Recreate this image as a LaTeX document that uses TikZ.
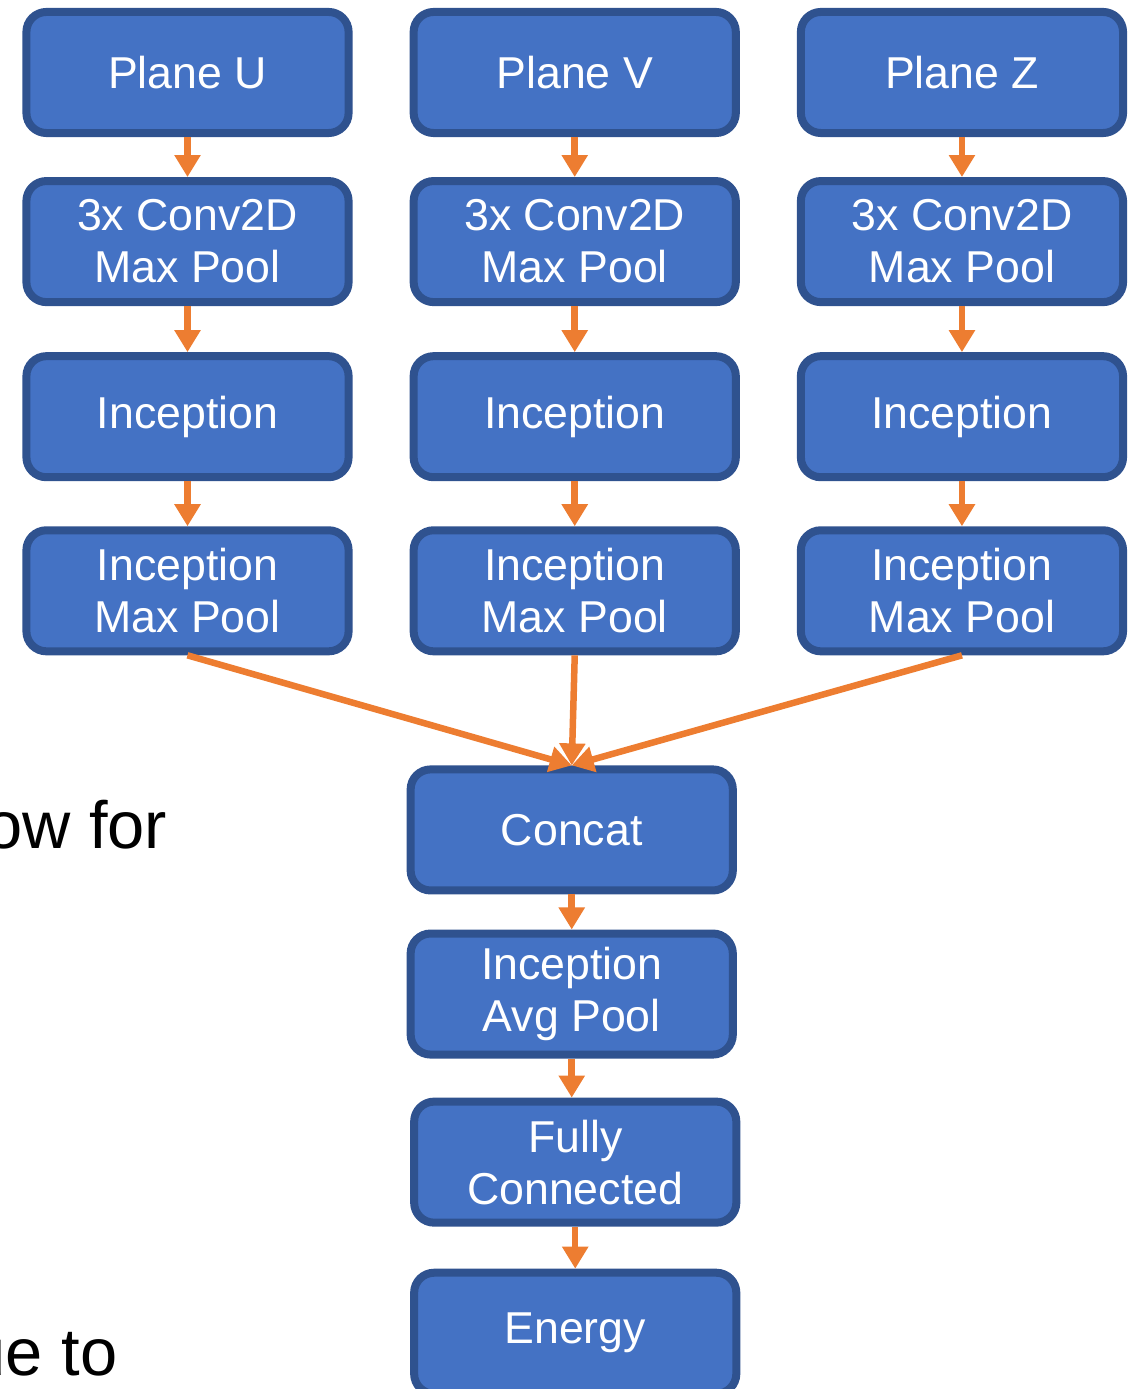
\documentclass[tikz,border=0pt]{standalone}
\usepackage{fontspec}
\setmainfont{Liberation Sans}
\usetikzlibrary{arrows.meta,positioning}
\definecolor{boxblue}{HTML}{4472C4}
\definecolor{boxedge}{HTML}{2F528F}
\definecolor{flow}{HTML}{ED7D31}

\begin{document}
\begin{tikzpicture}[
  x=0.01cm, y=-0.01cm,
  layer/.style={draw=boxedge, line width=0.08cm, fill=boxblue,
                rounded corners=0.2cm, minimum width=3.22cm,
                minimum height=1.21cm, align=center, inner sep=0pt,
                text=white, font=\fontsize{12.7}{14.8}\selectfont},
  slide/.style={font=\fontsize{19}{23}\selectfont, inner sep=0pt},
  arrow/.style={-{Triangle[width=0.25cm, length=0.22cm]}, draw=flow,
                fill=flow, line width=0.065cm},
  node distance=0.45cm
]
  \useasboundingbox (0,0) rectangle (1138,1389);

  % three planes
  \node[layer] (planeU) at (187.5,72.5) {Plane U};
  \node[layer, right=0.57cm of planeU] (planeV) {Plane V};
  \node[layer, right=0.57cm of planeV] (planeZ) {Plane Z};

  \node[layer, below=0.40cm of planeU] (convU) {3x Conv2D\\Max Pool};
  \node[layer, below=0.40cm of planeV] (convV) {3x Conv2D\\Max Pool};
  \node[layer, below=0.40cm of planeZ] (convZ) {3x Conv2D\\Max Pool};

  \node[layer, below=0.46cm of convU] (incU) {Inception};
  \node[layer, below=0.46cm of convV] (incV) {Inception};
  \node[layer, below=0.46cm of convZ] (incZ) {Inception};

  \node[layer, below=of incU] (poolU) {Inception\\Max Pool};
  \node[layer, below=of incV] (poolV) {Inception\\Max Pool};
  \node[layer, below=of incZ] (poolZ) {Inception\\Max Pool};

  % merged trunk
  \node[layer, below=1.10cm of poolV, xshift=-0.03cm] (concat) {Concat};
  \node[layer, below=0.35cm of concat] (avgpool) {Inception\\Avg Pool};
  \node[layer, below=0.39cm of avgpool, xshift=0.035cm] (dense) {Fully\\Connected};
  \node[layer, below=0.42cm of dense] (energy) {Energy};

  \draw[arrow] (planeU) -- (convU);
  \draw[arrow] (planeV) -- (convV);
  \draw[arrow] (planeZ) -- (convZ);
  \draw[arrow] (convU) -- (incU);
  \draw[arrow] (convV) -- (incV);
  \draw[arrow] (convZ) -- (incZ);
  \draw[arrow] (incU) -- (poolU);
  \draw[arrow] (incV) -- (poolV);
  \draw[arrow] (incZ) -- (poolZ);

  \draw[arrow] (poolU.south) -- (concat.north);
  \draw[arrow] (poolV.south) -- (concat.north);
  \draw[arrow] (poolZ.south) -- (concat.north);

  \draw[arrow] (concat) -- (avgpool);
  \draw[arrow] (avgpool.south) -- (avgpool.south |- dense.north);
  \draw[arrow] (dense) -- (energy);

  % slide text cut off at the left
  \node[slide, anchor=base east] (allowfor) at (168,848) {ow for};
  \node[slide, anchor=base east] (dueto) at (118,1375) {ue to};
\end{tikzpicture}
\end{document}
